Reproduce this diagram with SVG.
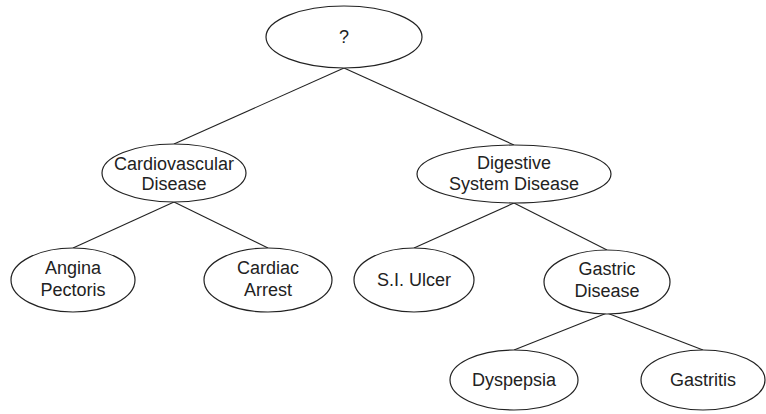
<svg xmlns="http://www.w3.org/2000/svg" width="766" height="414" viewBox="0 0 766 414">
<style>
.n ellipse{fill:#fff;stroke:#222;stroke-width:1.2}
.n text{font-family:"Liberation Sans",Arial,sans-serif;font-size:18px;fill:#222;text-anchor:middle}
#edges line{stroke:#222;stroke-width:1.1}
</style>
<rect width="766" height="414" fill="#fff"/>
<g id="edges">
<line x1="344" y1="68" x2="174" y2="144"/>
<line x1="344" y1="68" x2="514" y2="145"/>
<line x1="174" y1="202" x2="73" y2="248"/>
<line x1="174" y1="202" x2="268" y2="248"/>
<line x1="514" y1="203" x2="414" y2="248"/>
<line x1="514" y1="203" x2="607" y2="250"/>
<line x1="607" y1="313" x2="514" y2="350"/>
<line x1="607" y1="313" x2="703" y2="350"/>
</g>
<g id="root" class="n"><ellipse cx="344" cy="37" rx="78" ry="31"/><text x="344" y="43">?</text></g>
<g id="cardio" class="n"><ellipse cx="174" cy="173" rx="72" ry="29"/><text x="174" y="170">Cardiovascular</text><text x="174" y="190">Disease</text></g>
<g id="digest" class="n"><ellipse cx="514" cy="174" rx="97" ry="29"/><text x="514" y="169">Digestive</text><text x="514" y="190">System Disease</text></g>
<g id="angina" class="n"><ellipse cx="73" cy="280" rx="62" ry="32"/><text x="73" y="274">Angina</text><text x="73" y="296">Pectoris</text></g>
<g id="cardiac" class="n"><ellipse cx="268" cy="280" rx="64" ry="32"/><text x="268" y="274">Cardiac</text><text x="268" y="296">Arrest</text></g>
<g id="siulcer" class="n"><ellipse cx="414" cy="280" rx="60" ry="32"/><text x="414" y="286">S.I. Ulcer</text></g>
<g id="gastric" class="n"><ellipse cx="607" cy="282" rx="63" ry="32"/><text x="607" y="275">Gastric</text><text x="607" y="297">Disease</text></g>
<g id="dyspepsia" class="n"><ellipse cx="514" cy="380" rx="64" ry="30"/><text x="514" y="386">Dyspepsia</text></g>
<g id="gastritis" class="n"><ellipse cx="703" cy="380" rx="62" ry="30"/><text x="703" y="386">Gastritis</text></g>
</svg>
